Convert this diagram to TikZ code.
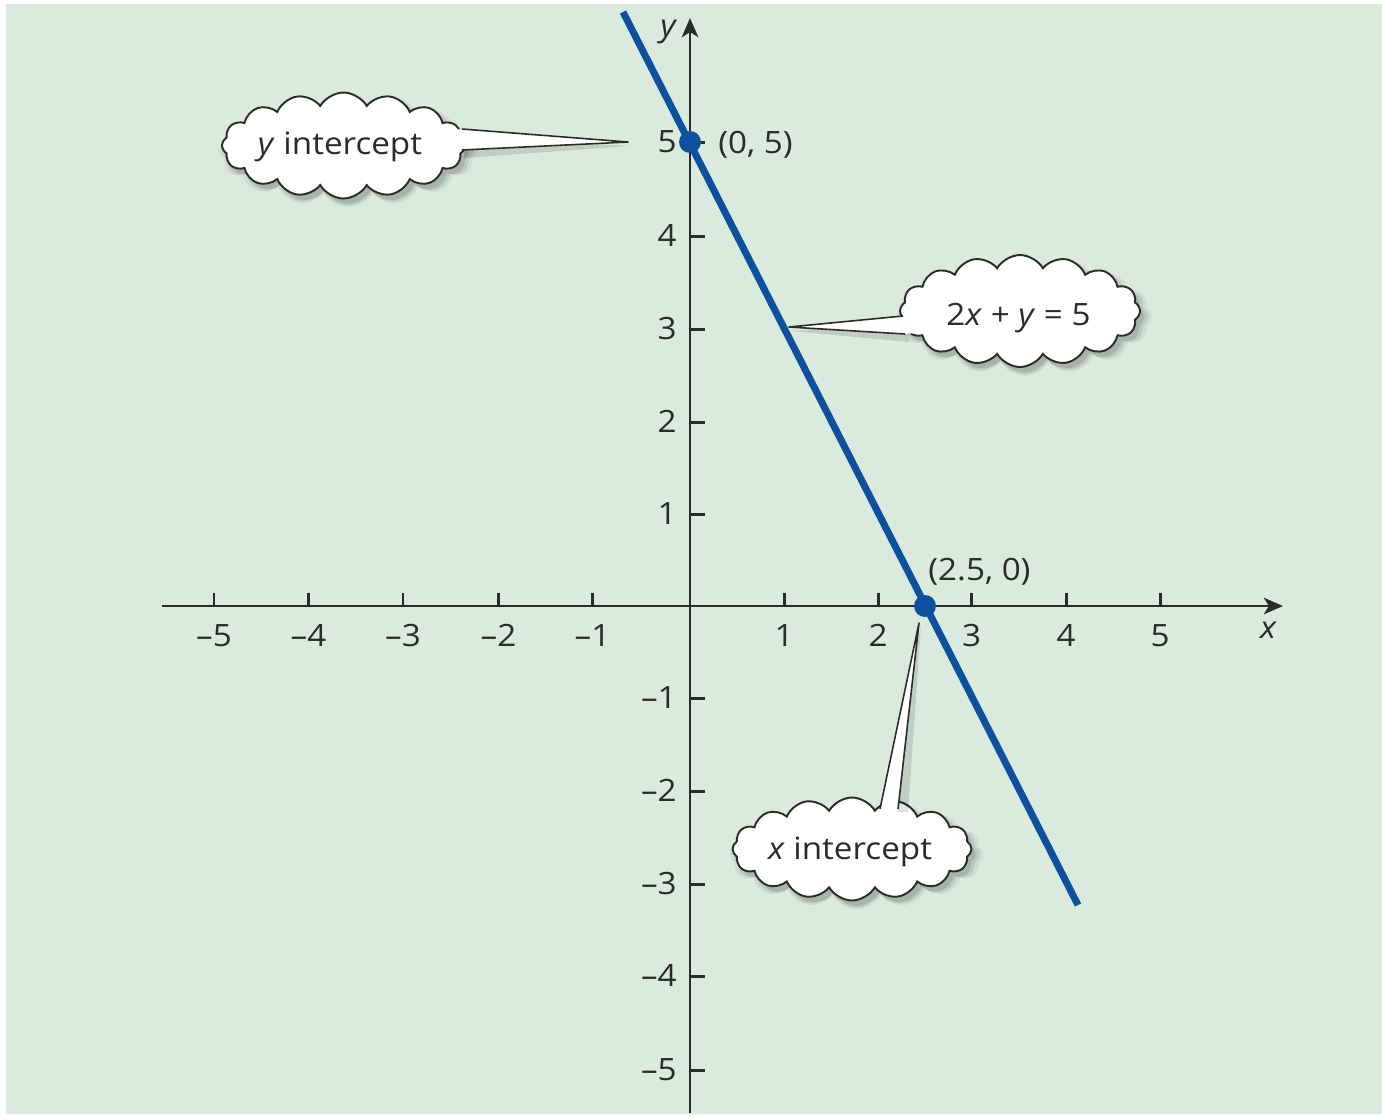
\documentclass[tikz,border=0pt]{standalone}
\usepackage{fontspec}
\setmainfont{Open Sans}[FakeStretch=1.08]
\usetikzlibrary{arrows.meta,shapes.symbols,shadows}
\definecolor{bg}{HTML}{DAEBDD}
\definecolor{lineblue}{HTML}{0E50A0}
\definecolor{ink}{HTML}{2B2B2B}
\begin{document}
\begin{tikzpicture}[x=0.02cm,y=-0.02cm,
  axis/.style={line width=1.1pt, draw=ink},
  tickmark/.style={line width=1.7pt, draw=ink},
  lbl/.style={font=\fontsize{17.5}{20}\selectfont, text=ink, inner sep=0pt},
  graph/.style={line width=4pt, draw=lineblue},
  dot/.style={circle, fill=lineblue, minimum size=12.5pt, inner sep=0pt},
  softshadow/.style={
    general shadow={shadow scale=1.06, shadow xshift=2.5pt, shadow yshift=-3pt, fill=black, opacity=0.06},
    general shadow={shadow scale=1.03, shadow xshift=2.5pt, shadow yshift=-3pt, fill=black, opacity=0.08},
    general shadow={shadow xshift=2.5pt, shadow yshift=-3pt, fill=black, opacity=0.11}},
  cloudbox/.style={cloud, cloud puffs=16, cloud puff arc=120, cloud ignores aspect,
    draw=ink, line width=1.1pt, fill=white, inner sep=0pt, softshadow},
  wedgeline/.style={draw=ink, line width=0.9pt, line join=round},
  wedgeshadow/.style={fill=black, opacity=0.12}
]
\useasboundingbox (0,0) rectangle (1382,1117);
\fill[white] (0,0) rectangle (1382,1117);
\fill[bg] (6,4) rectangle (1382,1114);

% axes
\coordinate (xL) at (162,606);
\coordinate (xR) at (1283,606);
\coordinate (yB) at (690,1113);
\coordinate (yT) at (690,18);
\draw[axis,-{Stealth[length=11pt,width=9.5pt,inset=3pt]}] (xL) -- (xR);
\draw[axis,-{Stealth[length=11pt,width=9.5pt,inset=3pt]}] (yB) -- (yT);
\node[lbl, anchor=base, font=\fontsize{17.5}{20}\selectfont\itshape] (xname) at (1268,638) {x};
\node[lbl, anchor=base, font=\fontsize{17.5}{20}\selectfont\itshape] (yname) at (668,36) {y};

% x ticks
\foreach \p in {214,308.5,403,498.5,592.5,784,878,971.5,1066,1160} {
  \draw[tickmark] (\p,606) -- (\p,593);
}
\foreach \v/\p in {5/214,4/308.5,3/403,2/498.5,1/592.5} {
  \node[lbl, anchor=base] (xlm\v) at (\p,646) {–\v};
}
\foreach \v/\p in {1/784,2/878,3/971.5,4/1066,5/1160} {
  \node[lbl, anchor=base] (xlp\v) at (\p,646) {\v};
}
% y ticks
\foreach \p in {142,236,329,422,514,698,791,884,976,1070} {
  \draw[tickmark] (690,\p) -- (705,\p);
}
\foreach \v/\p in {5/142,4/236,3/329,2/422,1/514} {
  \node[lbl, anchor=base east] (ylp\v) at (677,\p+10.5) {\v};
}
\foreach \v/\p in {1/698,2/791,3/884,4/976,5/1070} {
  \node[lbl, anchor=base east] (ylm\v) at (677,\p+10.5) {–\v};
}

% ---- callout: y intercept
\node[cloudbox, minimum width=4.86cm, minimum height=2.12cm] (cy) at (343.5,145.5) {};
\coordinate (ty) at (628,142);
\coordinate (ya) at (462,129);
\coordinate (yb) at (462,150);
\fill[wedgeshadow] (630,146) -- (464,137) -- (464,158) -- cycle;
\fill[white] (ty) -- (ya) -- (440,132) -- (440,148) -- (yb) -- cycle;
\draw[wedgeline] (ya) -- (ty) -- (yb);
\node[lbl] (cyt) at (340,147) {\textit{y} intercept};

% ---- callout: equation
\node[cloudbox, minimum width=4.8cm, minimum height=2.24cm] (ce) at (1020,311) {};
\coordinate (te) at (789,327);
\coordinate (ea) at (903,316);
\coordinate (eb) at (905,334);
\fill[wedgeshadow] (791,331) -- (907,322) -- (909,342) -- cycle;
\fill[white] (te) -- (ea) -- (928,318) -- (928,332) -- (eb) -- cycle;
\draw[wedgeline] (ea) -- (te) -- (eb);
\node[lbl] (cet) at (1018.5,318) {2\textit{x} + \textit{y} = 5};

% ---- callout: x intercept
\node[cloudbox, minimum width=4.78cm, minimum height=2.06cm] (cx) at (852,849) {};
\coordinate (tx) at (919,623);
\coordinate (xa) at (880,809);
\coordinate (xb) at (898,809);
\fill[wedgeshadow] (921,625) -- (886,812) -- (908,812) -- cycle;
\fill[white] (tx) -- (xa) -- (878,830) -- (896,830) -- (xb) -- cycle;
\draw[wedgeline] (xa) -- (tx) -- (xb);
\node[lbl] (cxt) at (850,852) {\textit{x} intercept};

% ---- graph line
\coordinate (L1) at (623,12);
\coordinate (L2) at (1078,905);
\draw[graph] (L1) -- (L2);
\node[dot] (P0) at (690,142) {};
\node[dot] (P1) at (925,606) {};
\node[lbl, anchor=base west] (P0lbl) at (718,153) {(0, 5)};
\node[lbl, anchor=base west] (P1lbl) at (928,580) {(2.5, 0)};
\end{tikzpicture}
\end{document}
